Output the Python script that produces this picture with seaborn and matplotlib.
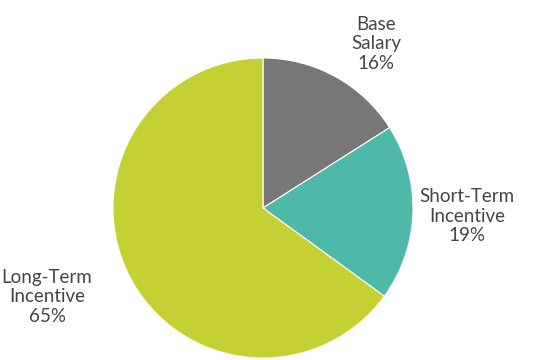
import matplotlib
matplotlib.use("Agg")
import matplotlib.pyplot as plt
import seaborn as sns

categories = ["Base\nSalary", "Short-Term\nIncentive", "Long-Term\nIncentive"]
values = [16, 19, 65]
colors = ["#777777", "#4FB9A9", "#C5D133"]

sns.set_theme(style="white")
plt.rcParams['font.family'] = ['Lato', 'DejaVu Sans']

W, H = 547, 360
cx, cy, R = 263, 208, 150

fig = plt.figure(figsize=(W / 100, H / 100), dpi=100)
ax = fig.add_axes([0, 0, 1, 1])
ax.pie(values, colors=colors, startangle=90, counterclock=False, radius=1,
       wedgeprops=dict(edgecolor="white", linewidth=0.8))
ax.set_xlim(-cx / R, (W - cx) / R)
ax.set_ylim(-(H - cy) / R, cy / R)
ax.set_aspect("equal")
ax.axis("off")

label_px = [(376, 44), (467, 216), (47, 297)]
for cat, v, (px, py) in zip(categories, values, label_px):
    ax.text((px - cx) / R, (cy - py) / R, f"{cat}\n{v}%", ha="center", va="center",
            fontsize=13.5, color="#454545", linespacing=1.2)

fig.savefig("out.png", dpi=100)
